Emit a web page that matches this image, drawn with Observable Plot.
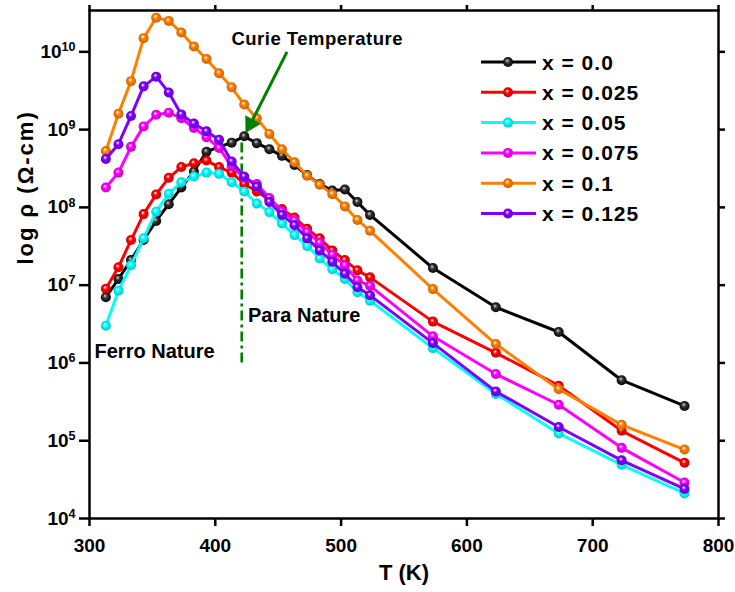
<!DOCTYPE html>
<html><head><meta charset="utf-8">
<script src="https://cdn.jsdelivr.net/npm/d3@7"></script>
<script src="https://cdn.jsdelivr.net/npm/@observablehq/plot@0.6"></script>
<style>
html,body{margin:0;padding:0;background:#fff;}
#chart{position:relative;width:735px;height:592px;}
</style></head><body><div id="chart"></div>
<script>
// ---------- data ----------
const temperatures = [313,323,333,343,353,363,373,383,393,403,413,423,433,443,453,463,473,483,493,503,513,523,573,623,673,723,773];
const rho_x0000 = [7.0e6,1.2e7,2.1e7,3.8e7,6.7e7,1.1e8,1.8e8,2.9e8,5.2e8,6.0e8,6.8e8,8.2e8,6.7e8,5.6e8,4.6e8,3.5e8,2.6e8,2.0e8,1.65e8,1.7e8,1.17e8,8.0e7,1.66e7,5.2e6,2.5e6,6.0e5,2.8e5];
const rho_x0025 = [9.0e6,1.7e7,3.8e7,8.2e7,1.47e8,2.4e8,3.3e8,3.7e8,4.0e8,3.3e8,2.8e8,2.0e8,1.6e8,1.25e8,9.5e7,7.4e7,5.3e7,4.0e7,2.8e7,2.1e7,1.55e7,1.26e7,3.4e6,1.35e6,5.1e5,1.34e5,5.2e4];
const rho_x0050 = [3.0e6,8.5e6,1.8e7,4.0e7,8.8e7,1.5e8,2.1e8,2.5e8,2.8e8,2.7e8,2.1e8,1.6e8,1.12e8,8.7e7,6.2e7,4.4e7,3.2e7,2.2e7,1.6e7,1.2e7,8.1e6,6.3e6,1.55e6,4.0e5,1.24e5,4.9e4,2.1e4];
const rho_x0075 = [1.8e8,2.8e8,6.0e8,1.1e9,1.55e9,1.65e9,1.4e9,1.05e9,8.0e8,5.8e8,3.4e8,2.4e8,2.0e8,1.32e8,8.9e7,6.8e7,4.8e7,3.5e7,2.45e7,1.8e7,1.15e7,9.8e6,2.2e6,7.2e5,2.9e5,8.1e4,2.9e4];
const rho_x0100 = [5.3e8,1.6e9,4.2e9,1.5e10,2.75e10,2.5e10,1.77e10,1.17e10,8.1e9,5.3e9,3.5e9,2.1e9,1.4e9,8.8e8,5.6e8,3.8e8,2.55e8,1.95e8,1.48e8,1.03e8,6.9e7,5.0e7,8.9e6,1.75e6,4.6e5,1.6e5,7.7e4];
const rho_x0125 = [4.2e8,6.5e8,1.5e9,3.6e9,4.8e9,3.0e9,1.57e9,1.2e9,9.5e8,7.4e8,3.9e8,2.5e8,1.85e8,1.17e8,8.0e7,5.9e7,4.0e7,2.8e7,2.0e7,1.4e7,9.4e6,7.4e6,1.8e6,4.3e5,1.5e5,5.6e4,2.4e4];

const seriesLabels = ["x = 0.0","x = 0.025","x = 0.05","x = 0.075","x = 0.1","x = 0.125"];
const seriesValues = [rho_x0000, rho_x0025, rho_x0050, rho_x0075, rho_x0100, rho_x0125];
const seriesColors = ["#000000","#ff0000","#00ffff","#ff00ff","#ff8000","#8000ff"];

const xTicks = [300,400,500,600,700,800];
const yTicks = [1e4,1e5,1e6,1e7,1e8,1e9,1e10];

// annotations (data units)
const curieLabel = ["Curie Temperature"];
const curieLabelAt = [481, 1.45e10];
const paraLabel = ["Para Nature"];
const paraLabelAt = [426, 4.1e6];
const ferroLabel = ["Ferro Nature"];
const ferroLabelAt = [304, 1.38e6];
const curieLineT = [421];
const curieLineRho = [1.0e6, 8.0e8];
const arrowStart = [457, 1.0e10];
const arrowHeadAt = [428, 1.18e9];

// ---------- build ----------
const FONT = "'Liberation Sans', Arial, Helvetica, sans-serif";
const table = [];
seriesValues.forEach((vals, s) => vals.forEach((v, i) => table.push({T: temperatures[i], rho: v, s})));

const marks = [];
marks.push(Plot.frame({stroke: "#000", strokeWidth: 2.5}));
marks.push(Plot.axisX({ticks: xTicks, tickSize: 8, tickPadding: 12, strokeWidth: 2.5, fontSize: 19, fontWeight: "bold", label: null}));
marks.push(Plot.axisX({anchor: "top", ticks: xTicks, tickSize: 6, strokeWidth: 2.5, tickFormat: () => "", label: null}));
marks.push(Plot.axisY({ticks: yTicks, tickSize: 10, tickPadding: 4, strokeWidth: 2.5, fontSize: 19, fontWeight: "bold", label: null,
  tickFormat: d => String(Math.round(Math.log10(d)))}));
marks.push(Plot.axisY({anchor: "right", ticks: yTicks, tickSize: 6, strokeWidth: 2.5, tickFormat: () => "", label: null}));

// Curie dash-dot line
marks.push(Plot.ruleX(curieLineT, {x: d => d, y1: curieLineRho[0], y2: curieLineRho[1], stroke: "#008000", strokeWidth: 2.6, strokeDasharray: "10,4,3,4"}));

seriesValues.forEach((vals, s) => {
  const rows = table.filter(d => d.s === s);
  marks.push(Plot.line(rows, {x: "T", y: "rho", stroke: seriesColors[s], strokeWidth: 3}));
  marks.push(Plot.dot(rows, {x: "T", y: "rho", r: 5, fill: `url(#ball${s})`, stroke: "none"}));
});

// arrow
marks.push(Plot.link([0], {x1: arrowStart[0], y1: arrowStart[1], x2: arrowHeadAt[0], y2: arrowHeadAt[1], stroke: "#008000", strokeWidth: 3}));
marks.push(Plot.dot([0], {x: arrowHeadAt[0], y: arrowHeadAt[1], symbol: "triangle", r: 6.6, rotate: 209, fill: "#008000", stroke: "none"}));

// annotation texts
marks.push(Plot.text(curieLabel, {x: curieLabelAt[0], y: curieLabelAt[1], text: d => d, textAnchor: "middle", fontSize: 18.5, fontWeight: "bold", fill: "#000"}));
marks.push(Plot.text(paraLabel, {x: paraLabelAt[0], y: paraLabelAt[1], text: d => d, textAnchor: "start", fontSize: 20, fontWeight: "bold", fill: "#000"}));
marks.push(Plot.text(ferroLabel, {x: ferroLabelAt[0], y: ferroLabelAt[1], text: d => d, textAnchor: "start", fontSize: 20, fontWeight: "bold", fill: "#000"}));

// axis titles
marks.push(Plot.text(["T (K)"], {frameAnchor: "bottom", dy: 61, text: d => d, fontSize: 22, fontWeight: "bold", fill: "#000"}));
marks.push(Plot.text(["log \u03C1 (\u03A9-cm)"], {frameAnchor: "left", dx: -64, rotate: -90, text: d => d, fontSize: 22, fontWeight: "bold", fill: "#000"}));

const svg = Plot.plot({
  width: 735, height: 592,
  marginLeft: 89, marginRight: 17, marginTop: 10, marginBottom: 74,
  style: {fontFamily: FONT, background: "#fff", color: "#000", overflow: "visible"},
  x: {domain: [300, 800]},
  y: {type: "log", domain: [1e4, 3.4e10]},
  marks
});

const root = d3.select(svg);
// gradients for glossy ball markers
const defs = root.insert("defs", ":first-child");
seriesColors.forEach((c, i) => {
  const g = defs.append("radialGradient").attr("id", "ball" + i)
    .attr("cx", "50%").attr("cy", "50%").attr("r", "55%").attr("fx", "40%").attr("fy", "34%");
  const isBlack = c === "#000000";
  g.append("stop").attr("offset", "0%").attr("stop-color", isBlack ? "#d8d8d8" : "#ffffff");
  g.append("stop").attr("offset", "38%").attr("stop-color", isBlack ? "#333" : c);
  g.append("stop").attr("offset", "100%").attr("stop-color", isBlack ? "#000" : d3.color(c).darker(0.8).formatHex());
});

// superscript exponents on y tick labels
root.selectAll('g[aria-label="y-axis tick label"] text').each(function() {
  const t = d3.select(this);
  const e = t.text();
  if (!e) return;
  t.text("10");
  t.append("tspan").attr("dy", "-0.55em").attr("font-size", "0.66em").text(e);
});

// letter spacing tweaks
root.selectAll("text").each(function() {
  const t = d3.select(this);
  if (t.text().startsWith("log")) t.attr("letter-spacing", 2);
  if (t.text() === "Curie Temperature") t.attr("letter-spacing", 0.5);
});

// legend
const lg = root.append("g").attr("aria-label", "legend");
seriesLabels.forEach((lab, i) => {
  const y = 62 + i * 30.3;
  lg.append("line").attr("x1", 481).attr("x2", 536).attr("y1", y).attr("y2", y)
    .attr("stroke", seriesColors[i]).attr("stroke-width", 3);
  lg.append("circle").attr("cx", 508).attr("cy", y).attr("r", 5).attr("fill", `url(#ball${i})`);
  lg.append("text").attr("x", 542).attr("y", y).attr("dy", "0.36em")
    .attr("text-anchor", "start")
    .attr("font-size", 21).attr("font-weight", "bold").attr("letter-spacing", 1)
    .attr("font-family", FONT).attr("fill", "#000").text(lab);
});

document.getElementById("chart").appendChild(svg);
</script></body></html>
